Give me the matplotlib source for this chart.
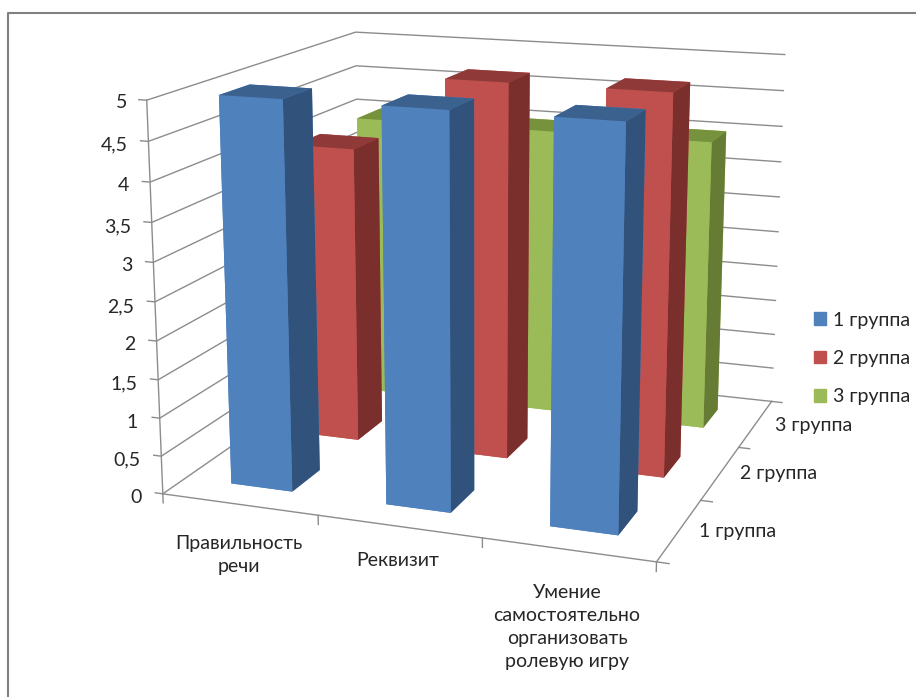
import matplotlib
matplotlib.use("Agg")
import matplotlib.pyplot as plt
from matplotlib.patches import Patch

plt.rcParams["font.family"] = ["Lato", "DejaVu Sans"]

categories = ["Правильность\nречи", "Реквизит", "Умение\nсамостоятельно\nорганизовать\nролевую игру"]
groups = ["1 группа", "2 группа", "3 группа"]
values_1 = [5, 5, 5]
values_2 = [4, 5, 5]
values_3 = [4, 4, 4]
value_ticks = [0, 0.5, 1, 1.5, 2, 2.5, 3, 3.5, 4, 4.5, 5]

W, H = 916, 697
fig = plt.figure(figsize=(W / 100, H / 100), dpi=100)

# camera found by fitting the box corners to the reference
scale, cx, cy = 4098.16, 487.55, 264.48
ax_w = scale * 0.185
left = cx - 0.095 * scale
bottom_px = cy + 0.095 * scale
ax = fig.add_axes([left / W, (H - bottom_px) / H, ax_w / W, ax_w / H], projection="3d", computed_zorder=False)
ax.set_xlim(0, 3, view_margin=0)
ax.set_ylim(0, 3, view_margin=0)
ax.set_zlim(0, 5, view_margin=0)
ax.view_init(14.410, -70.205, -0.073)
ax.set_box_aspect((1, 0.9787, 0.7808))
ax.set_proj_type("persp", focal_length=0.4966)
ax.set_axis_off()

grid = "#8C8C8C"
for z in value_ticks:
    ax.plot([-0.05, 0, 0, 3], [0, 0, 3, 3], [z, z, z, z], color=grid, lw=1, zorder=1)
ax.plot([0, 0], [0, 0], [0, 5], color=grid, lw=1, zorder=1)
ax.plot([0, 3, 3], [0, 0, 3], [0, 0, 0], color=grid, lw=1, zorder=1)
for x in range(4):
    ax.plot([x, x], [0, 0], [0, -0.12], color=grid, lw=1, zorder=1)
for y in range(4):
    ax.plot([3, 3.07], [y, y], [0, 0], color=grid, lw=1, zorder=1)

palette = [
    ("#4F81BD", "#3B618F", "#31527A"),
    ("#C0504D", "#8F3A38", "#7B2F2D"),
    ("#9BBB59", "#76923C", "#667C35"),
]
all_values = [values_1, values_2, values_3]
width = 0.4
order = 2
for g in (2, 1, 0):
    front, top, side = palette[g]
    for k, val in enumerate(all_values[g]):
        # face order of bar3d: bottom, top, -y, +y, -x, +x
        face_colors = [front, top, front, front, front, side]
        ax.bar3d(k + 0.3, g + 0.3, 0, width, width, val, color=face_colors,
                 shade=False, linewidth=0, zorder=order)
        order += 1

text_color = "#262626"
fs = 14


def px_text(x, y, s, **kw):
    fig.text(x / W, 1 - y / H, s, fontsize=fs, color=text_color, **kw)


tick_xy = [(142, 496), (140, 458), (138, 421), (137, 382), (135, 343), (134, 305),
           (132, 264), (131, 225), (129, 184), (128, 143), (127, 101)]
for (x, y), z in zip(tick_xy, value_ticks):
    px_text(x, y, f"{z:g}".replace(".", ","), ha="right", va="center_baseline")

for (x, y), label in zip([(239, 555), (398, 561), (567, 627)], categories):
    px_text(x, y, label, ha="center", va="center", linespacing=1.45)
for (x, y), label in zip([(699, 531), (740, 474), (775, 425)], groups):
    px_text(x, y, label, ha="left", va="center")

handles = [Patch(color=palette[i][0], label=groups[i]) for i in range(3)]
fig.legend(handles=handles, loc="center left", bbox_to_anchor=(814 / W, 1 - 358.5 / H), frameon=False,
           fontsize=fs, handlelength=0.62, handleheight=0.62, handletextpad=0.38, labelspacing=1.1,
           borderpad=0, borderaxespad=0, labelcolor=text_color)

fig.add_artist(plt.Line2D([8 / W, 8 / W, 1], [0, 1 - 13 / H, 1 - 13 / H], color="#808080", lw=1.5))

fig.savefig("out.png", dpi=100)
